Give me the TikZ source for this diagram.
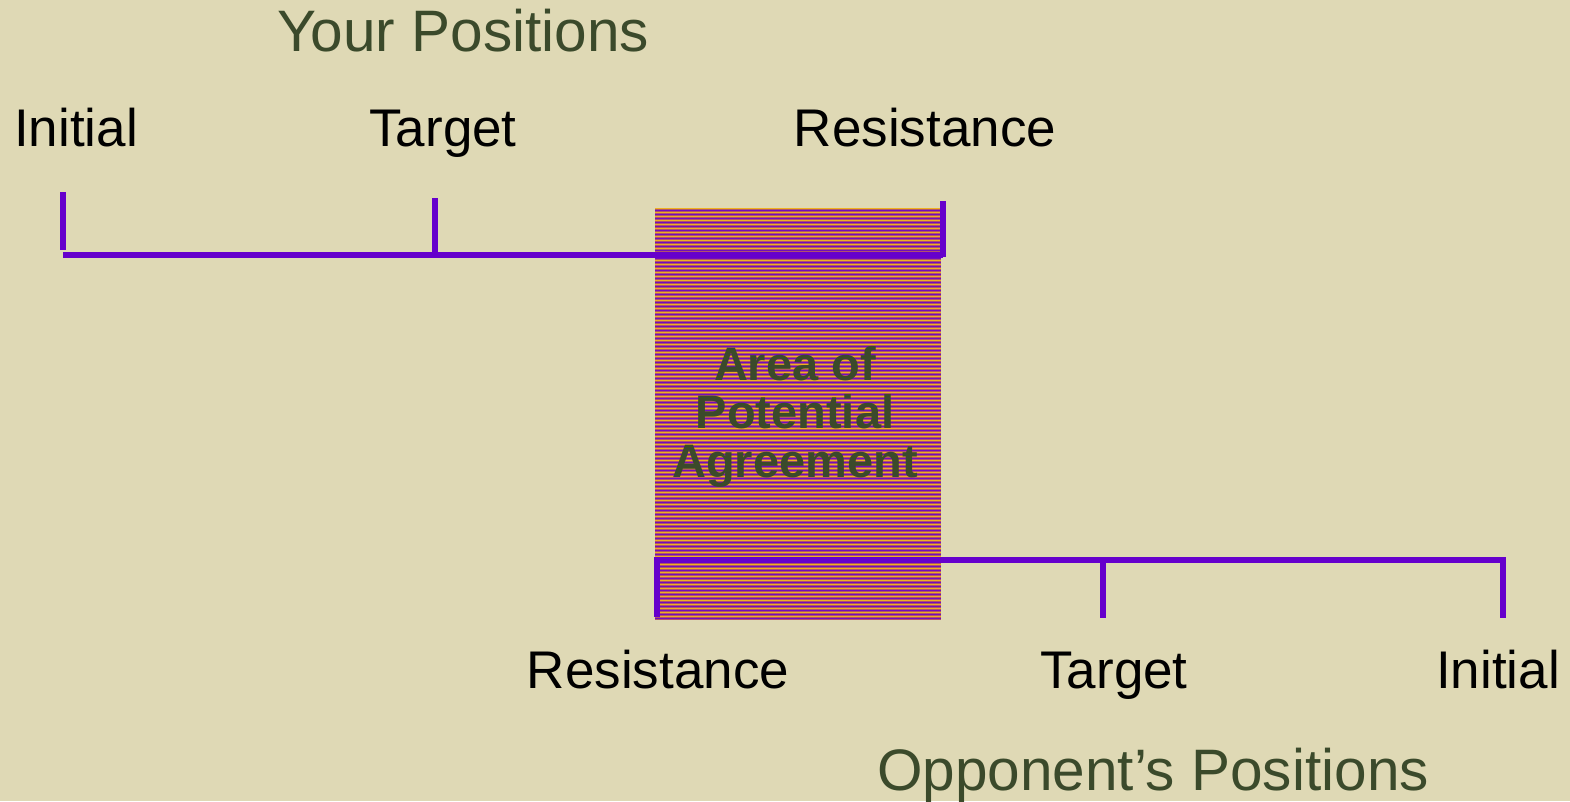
\documentclass[tikz,border=0pt]{standalone}
\usepackage{fontspec}
\setmainfont{Liberation Sans}
\definecolor{bg}{HTML}{DFD9B5}
\definecolor{pur}{HTML}{6600CC}
\definecolor{dg}{HTML}{3B4A2B}
\definecolor{mauve}{HTML}{B0526C}
\definecolor{yel}{HTML}{F0B020}
\tikzset{
  axis/.style={draw=pur, line width=6pt},
  lbl/.style={anchor=base, inner sep=0pt, font=\fontsize{53}{60}\selectfont, text=black},
  ttl/.style={anchor=base, inner sep=0pt, font=\fontsize{58.5}{66}\selectfont, text=dg},
}
\begin{document}
\begin{tikzpicture}[x=1pt,y=-1pt]
\fill[bg] (0,0) rectangle (1570,801);
\useasboundingbox (0,0) rectangle (1570,801);
% ZOPA rectangle
\coordinate (za) at (655,208);
\coordinate (zb) at (941,620);
\fill[mauve] (za) rectangle (zb);
\foreach \y in {208,212,...,618} {
  \fill[yel] (655,\y) rectangle (941,\y+1.3);
  \fill[pur!85!mauve] (655,\y+2) rectangle (941,\y+3.2);
}
\node[anchor=base, inner sep=0pt, text=dg, align=center, font=\fontsize{47}{48.5}\bfseries\selectfont] (zopa) at (795,477) {Area of\\Potential\\Agreement};
% your positions
\coordinate (y0) at (63,255);
\coordinate (y1) at (943,255);
\coordinate (yi) at (63,192);
\coordinate (yi2) at (63,250);
\coordinate (yt) at (435,198);
\coordinate (yt2) at (435,256);
\coordinate (yr) at (943,201);
\coordinate (yr2) at (943,257);
\draw[axis] (y0) -- (y1);
\draw[axis] (yi) -- (yi2);
\draw[axis] (yt) -- (yt2);
\draw[axis] (yr) -- (yr2);
% opponent positions
\coordinate (o0) at (655,560);
\coordinate (o1) at (1502,560);
\coordinate (oi) at (1503,557);
\coordinate (oi2) at (1503,618);
\coordinate (ot) at (1103,557);
\coordinate (ot2) at (1103,618);
\coordinate (or) at (657,557);
\coordinate (or2) at (657,617);
\draw[axis] (o0) -- (o1);
\draw[axis] (oi) -- (oi2);
\draw[axis] (ot) -- (ot2);
\draw[axis] (or) -- (or2);
% labels
\node[ttl] (yp) at (463,51) {Your Positions};
\node[lbl] (li) at (76,146) {Initial};
\node[lbl] (lt) at (443,146) {Target};
\node[lbl] (lr) at (925,146) {Resistance};
\node[lbl] (bl) at (658,688) {Resistance};
\node[lbl] (bt) at (1114,688) {Target};
\node[lbl] (bi) at (1498,688) {Initial};
\node[ttl] (op) at (1153,790) {Opponent’s Positions};
\end{tikzpicture}
\end{document}
